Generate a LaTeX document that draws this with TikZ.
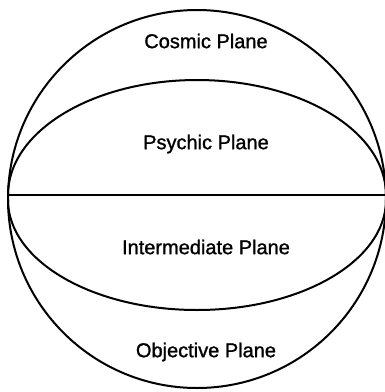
\documentclass[tikz,border=0pt]{standalone}
\usepackage{fontspec}
\setmainfont{Liberation Sans}[UprightFeatures={FakeBold=1.2}]
\begin{document}
\begin{tikzpicture}[x=1pt,y=-1pt,
  ln/.style={line width=2pt,black},
  lbl/.style={font=\fontsize{20}{22}\selectfont, inner sep=0pt}]
\useasboundingbox (0,0) rectangle (385,392);
\coordinate (c) at (197,199);
\draw[ln] (c) circle[radius=189];
\coordinate (L) at (8,195);
\coordinate (R) at (386,195);
\draw[ln] (L) -- (R);
\draw[ln] (L) arc[start angle=180,end angle=0,x radius=189,y radius=-115];
\draw[ln] (8,200) arc[start angle=180,end angle=360,x radius=189,y radius=-110];
\node[lbl] (cos) at (206,41) {Cosmic Plane};
\node[lbl] (psy) at (206,144) {Psychic Plane};
\node[lbl] (int) at (206,247) {Intermediate Plane};
\node[lbl] (obj) at (206,352) {Objective Plane};
\end{tikzpicture}
\end{document}
